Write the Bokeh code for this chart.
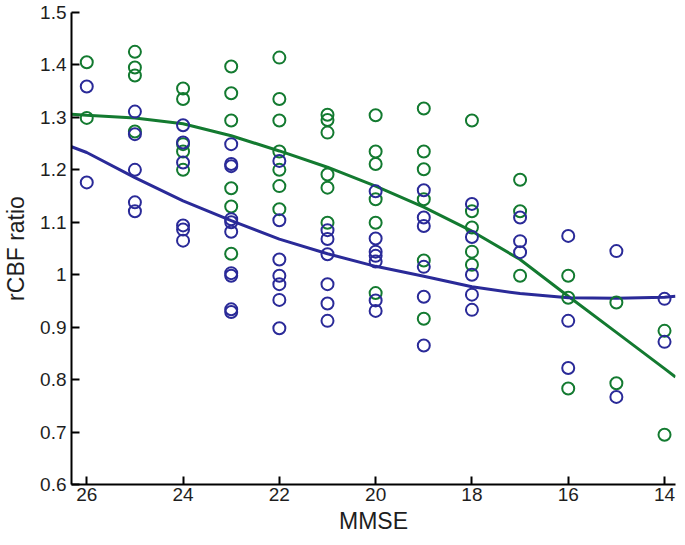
from bokeh.plotting import figure
from bokeh.models import Range1d, FixedTicker
from bokeh.embed import file_html
from bokeh.resources import INLINE

# --- data ---
green_x = [26, 26,
           25, 25, 25, 25,
           24, 24, 24, 24, 24,
           23, 23, 23, 23, 23, 23,
           22, 22, 22, 22, 22, 22, 22,
           21, 21, 21, 21, 21, 21,
           20, 20, 20, 20, 20, 20,
           19, 19, 19, 19, 19, 19,
           18, 18, 18, 18, 18,
           17, 17, 17,
           16, 16, 16,
           15, 15,
           14, 14]
green_y = [1.405, 1.299,
           1.425, 1.395, 1.380, 1.273,
           1.355, 1.335, 1.249, 1.235, 1.200,
           1.397, 1.346, 1.294, 1.165, 1.130, 1.040,
           1.414, 1.335, 1.294, 1.235, 1.200, 1.169, 1.125,
           1.305, 1.295, 1.271, 1.191, 1.166, 1.099,
           1.304, 1.235, 1.211, 1.144, 1.099, 0.965,
           1.317, 1.235, 1.201, 1.144, 1.027, 0.916,
           1.294, 1.121, 1.090, 1.044, 1.019,
           1.181, 1.121, 0.998,
           0.998, 0.956, 0.783,
           0.947, 0.793,
           0.893, 0.695]

blue_x = [26, 26,
          25, 25, 25, 25, 25,
          24, 24, 24, 24, 24, 24,
          23, 23, 23, 23, 23, 23, 23, 23, 23, 23,
          22, 22, 22, 22, 22, 22, 22,
          21, 21, 21, 21, 21, 21,
          20, 20, 20, 20, 20, 20, 20,
          19, 19, 19, 19, 19, 19,
          18, 18, 18, 18, 18,
          17, 17, 17,
          16, 16, 16,
          15, 15,
          14, 14]
blue_y = [1.359, 1.176,
          1.311, 1.268, 1.200, 1.138, 1.121,
          1.285, 1.252, 1.214, 1.094, 1.086, 1.065,
          1.249, 1.211, 1.207, 1.106, 1.100, 1.082, 1.003, 0.998, 0.934, 0.929,
          1.217, 1.104, 1.029, 0.998, 0.982, 0.952, 0.898,
          1.085, 1.068, 1.039, 0.982, 0.945, 0.912,
          1.159, 1.069, 1.044, 1.036, 1.025, 0.951, 0.931,
          1.161, 1.109, 1.093, 1.015, 0.958, 0.865,
          1.135, 1.072, 1.000, 0.962, 0.933,
          1.109, 1.064, 1.043,
          1.074, 0.912, 0.822,
          1.045, 0.767,
          0.954, 0.872]

fit_x = [26.317, 26, 25, 24, 23, 22, 21, 20, 19, 18, 17, 16, 15, 14, 13.772]
green_fit_y = [1.306, 1.304, 1.299, 1.288, 1.265, 1.236, 1.205, 1.169, 1.129,
               1.083, 1.029, 0.959, 0.890, 0.821, 0.805]
blue_fit_y = [1.244, 1.233, 1.185, 1.141, 1.103, 1.068, 1.040, 1.016, 0.997,
              0.977, 0.964, 0.956, 0.955, 0.957, 0.959]

x_ticks = [26, 24, 22, 20, 18, 16, 14]
y_ticks = [0.6, 0.7, 0.8, 0.9, 1.0, 1.1, 1.2, 1.3, 1.4, 1.5]
y_tick_labels = {0.6: "0.6", 0.7: "0.7", 0.8: "0.8", 0.9: "0.9", 1.0: "1",
                 1.1: "1.1", 1.2: "1.2", 1.3: "1.3", 1.4: "1.4", 1.5: "1.5"}

GREEN = "#137a30"
BLUE = "#2a2a98"
FONT = "Liberation Sans"

p = figure(width=677, height=542, output_backend="svg", toolbar_location=None,
           x_range=Range1d(26.317, 13.772), y_range=Range1d(0.6, 1.5),
           min_border_left=69, min_border_right=2, min_border_top=12,
           min_border_bottom=58)
p.outline_line_color = None
p.xgrid.visible = False
p.ygrid.visible = False

p.line(fit_x, green_fit_y, line_color=GREEN, line_width=3)
p.line(fit_x, blue_fit_y, line_color=BLUE, line_width=3)

p.scatter(green_x, green_y, marker="circle", size=12, fill_color=None,
          line_color=GREEN, line_width=2)
p.scatter(blue_x, blue_y, marker="circle", size=12, fill_color=None,
          line_color=BLUE, line_width=2)

for ax in (p.xaxis[0], p.yaxis[0]):
    ax.axis_line_width = 2
    ax.axis_line_color = "black"
    ax.major_tick_line_width = 2
    ax.major_tick_in = 8
    ax.major_tick_out = 0
    ax.minor_tick_line_color = None
    ax.major_label_text_font = FONT
    ax.major_label_text_font_size = "19px"
    ax.major_label_text_color = "#1e1e1e"
    ax.axis_label_text_font = FONT
    ax.axis_label_text_font_size = "23px"
    ax.axis_label_text_font_style = "normal"
    ax.axis_label_text_color = "#1e1e1e"

p.xaxis.ticker = FixedTicker(ticks=x_ticks)
p.yaxis.ticker = FixedTicker(ticks=y_ticks)
p.yaxis.major_label_overrides = y_tick_labels
p.xaxis.axis_label = "MMSE"
p.yaxis.axis_label = "rCBF ratio"
p.xaxis.major_label_standoff = 3
p.xaxis.axis_label_standoff = 4
p.yaxis.major_label_standoff = 5
p.yaxis.axis_label_standoff = 8

open("out.html", "w").write(file_html(p, INLINE))
